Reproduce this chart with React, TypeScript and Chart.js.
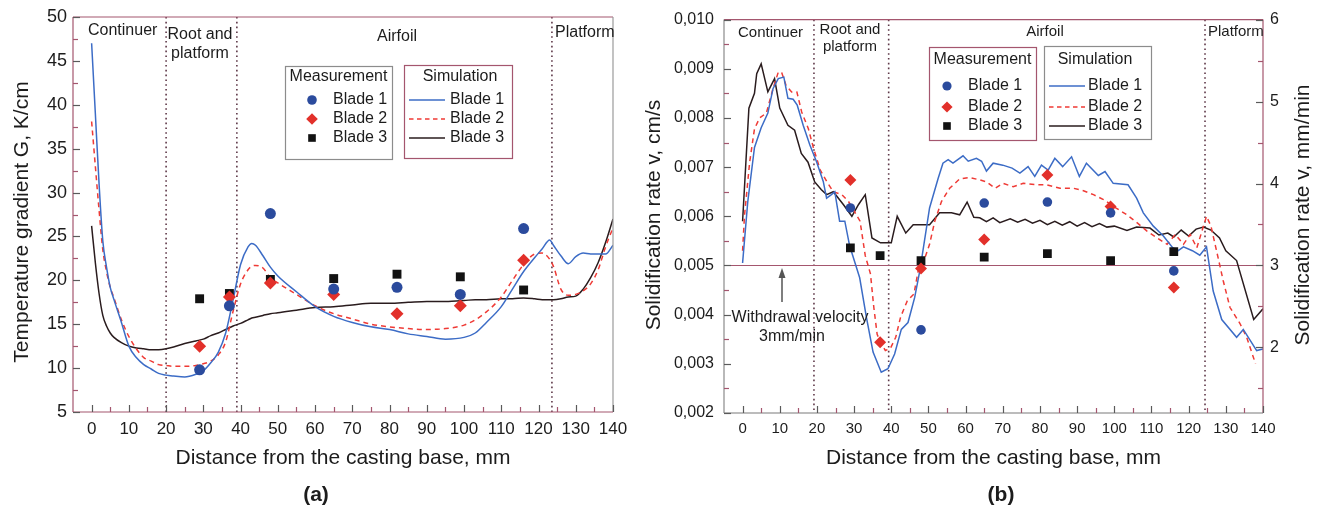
import React, { useEffect, useRef } from "react";
import { Chart, registerables } from "chart.js";

Chart.register(...registerables);

const FONT = "'Liberation Sans', Arial, Helvetica, sans-serif";
const TEXT = "#1c1c1c";
const BLUE_PT = "#2b4b9d";
const BLUE_LN = "#3c6cc6";
const RED_PT = "#e2302a";
const RED_LN = "#ef3a35";
const BLACK_PT = "#121212";
const BLACK_LN = "#2a1c1e";
const MAROON = "#a4566e";
const GRAY = "#8c8c8c";
const ZONE = "#5e3848";

// ---------- shared ----------
const BLADES = ["Blade 1", "Blade 2", "Blade 3"];
const DIST_TICKS = [0, 10, 20, 30, 40, 50, 60, 70, 80, 90, 100, 110, 120, 130, 140];
const MEAS_X = [29, 37, 48, 65, 82, 99, 116];

// ---------- panel (a): temperature gradient ----------
const GRAD_TICKS = [5, 10, 15, 20, 25, 30, 35, 40, 45, 50];
const gradMeasBlade1 = [9.8, 17.1, 27.6, 19.0, 19.2, 18.4, 25.9];
const gradMeasBlade2 = [12.5, 18.1, 19.7, 18.4, 16.2, 17.1, 22.3];
const gradMeasBlade3 = [17.9, 18.5, 20.1, 20.2, 20.7, 20.4, 18.9];

const gradSimX = [0, 1, 2, 3, 4, 5, 6, 8, 10, 12, 14, 16, 18, 20, 22, 25, 28, 30, 32, 34, 36, 38, 40, 42, 43, 44, 46, 48, 50, 55, 60, 65, 70, 75, 80, 85, 90, 95, 100, 103, 106, 110, 113, 116, 119, 121, 123, 124, 126, 128, 130, 132, 134, 136, 138, 140];
const gradSimBlade1 = [47, 39, 31, 24.5, 21.5, 19.2, 17.8, 15.2, 12.5, 11.2, 10.4, 9.9, 9.4, 9.2, 9.1, 9.0, 9.3, 9.7, 10.6, 11.8, 14.0, 17.8, 21.8, 23.8, 24.2, 24.0, 22.8, 21.5, 20.5, 18.7, 17.0, 15.9, 15.2, 14.7, 14.4, 13.9, 13.6, 13.3, 13.5, 14.0, 15.2, 17.0, 19.0, 21.0, 22.6, 23.6, 24.6, 24.0, 22.8, 21.9, 22.7, 23.1, 23.0, 23.0, 23.0, 24.0];
const gradSimBlade2 = [38.1, 33, 28, 23.5, 21, 19.2, 18, 15.5, 13.6, 12.2, 11.2, 10.8, 10.4, 10.3, 10.2, 10.2, 10.3, 10.5, 10.8, 11.5, 13.0, 16.5, 19.6, 21.2, 21.6, 21.7, 21.4, 20.3, 19.7, 18.4, 17.1, 16.2, 15.6, 15.0, 14.7, 14.5, 14.4, 14.5, 14.9, 15.5, 16.4, 18.1, 20.0, 21.8, 23.0, 23.1, 22.4, 21.6, 19.0, 18.3, 18.4, 18.8, 19.6, 21.2, 23.8, 26.0];
const gradSimBlade3 = [26.2, 22, 18.5, 16, 14.8, 14.0, 13.5, 12.9, 12.5, 12.3, 12.2, 12.1, 12.1, 12.2, 12.4, 12.8, 13.1, 13.3, 13.7, 14.0, 14.4, 14.8, 15.1, 15.5, 15.7, 15.8, 16.0, 16.2, 16.3, 16.6, 16.9, 17.0, 17.2, 17.4, 17.4, 17.5, 17.6, 17.6, 17.7, 17.8, 17.8, 17.9, 17.9, 18.0, 17.9, 17.8, 17.8, 17.8, 17.9, 18.1, 18.2, 19.0, 20.3, 22.0, 24.3, 27.0];
const gradZones = [20, 39, 123.6];

// ---------- panel (b): solidification rate ----------
const RATE_TICKS = [0.002, 0.003, 0.004, 0.005, 0.006, 0.007, 0.008, 0.009, 0.01];
const RATE_MM_TICKS = [2, 3, 4, 5, 6];
const WITHDRAWAL_RATE = 0.005;
const rateMeasX1 = [29, 48, 65, 82, 99, 116];
const rateMeasBlade1 = [0.00617, 0.00369, 0.00627, 0.00629, 0.00607, 0.00489];
const rateMeasBlade2 = [0.00674, 0.00344, 0.00494, 0.00553, 0.00684, 0.0062, 0.00455];
const rateMeasBlade3 = [0.00536, 0.0052, 0.0051, 0.00517, 0.00524, 0.0051, 0.00528];

const rateSimX1 = [0, 1.4, 3.2, 5, 6.8, 8.2, 9.6, 11.1, 12.2, 13.6, 14.7, 16.3, 18.1, 19.9, 21.7, 22.6, 23.9, 24.8, 26.1, 27.5, 28.8, 31.5, 33.3, 35.1, 37.3, 39.1, 40.9, 42.7, 44.5, 46.3, 47.7, 50.3, 52.6, 53.9, 55.3, 56.6, 59.3, 60.7, 62.9, 64.3, 65.6, 67.4, 70, 72.5, 74.6, 76.8, 78.6, 80.4, 82.2, 84, 86.1, 88.5, 90.6, 92.5, 95.7, 97.5, 99.7, 103.7, 106, 107.8, 110.5, 113.2, 115.7, 117.2, 118.6, 121, 123, 124.8, 126.6, 128.9, 132.9, 134.7, 138.3, 140];
const rateSimBlade1 = [0.00505, 0.0063, 0.0074, 0.0078, 0.0081, 0.0086, 0.0088, 0.00883, 0.0084, 0.00838, 0.00826, 0.00785, 0.00745, 0.00711, 0.00671, 0.00637, 0.00644, 0.0065, 0.0059, 0.0059, 0.0054, 0.00475, 0.00395, 0.00324, 0.00283, 0.0029, 0.0032, 0.0037, 0.00384, 0.00435, 0.0049, 0.00617, 0.00677, 0.00708, 0.00715, 0.00708, 0.00723, 0.00712, 0.00718, 0.00712, 0.00692, 0.00708, 0.00704, 0.00698, 0.00688, 0.00701, 0.00681, 0.00704, 0.00694, 0.00718, 0.00701, 0.00721, 0.00681, 0.00708, 0.00683, 0.00691, 0.00667, 0.00664, 0.00637, 0.00607, 0.0058, 0.0056, 0.00536, 0.0053, 0.00538, 0.0053, 0.00521, 0.00538, 0.00448, 0.0039, 0.00354, 0.0037, 0.00327, 0.0033];
const rateSimX2 = [0, 0.5, 1.9, 3.2, 4.6, 6.4, 8.2, 9.6, 10.5, 11.7, 13.2, 14.6, 15.9, 17.7, 19.1, 20.9, 22.7, 24.4, 26.7, 28.5, 30.3, 31.6, 33, 34.4, 35.3, 36.2, 37.1, 38.4, 39.8, 41.2, 42.5, 44.3, 46.1, 47.4, 48.8, 50.3, 51.7, 53.5, 55.7, 58.4, 61.1, 63.8, 65.6, 67.9, 70.1, 72.8, 75.5, 79.1, 81.8, 85.4, 89, 91.7, 94.4, 97.1, 99.8, 103.4, 106.1, 108.8, 111.5, 114.2, 116.4, 118.6, 120.4, 122.2, 124.8, 126, 127.5, 129.3, 131.1, 133.8, 135.6, 138];
const rateSimBlade2 = [0.0053, 0.006, 0.0071, 0.00778, 0.008, 0.0081, 0.0086, 0.00893, 0.00893, 0.00866, 0.00853, 0.00853, 0.00812, 0.00778, 0.00738, 0.00694, 0.0067, 0.0065, 0.00644, 0.0063, 0.00607, 0.0059, 0.0052, 0.00483, 0.00415, 0.0036, 0.00344, 0.00327, 0.00332, 0.00354, 0.00395, 0.00428, 0.00442, 0.00496, 0.0051, 0.00543, 0.0059, 0.0063, 0.00657, 0.00676, 0.00679, 0.00674, 0.0067, 0.00657, 0.00667, 0.0066, 0.00667, 0.00664, 0.00664, 0.00657, 0.00657, 0.00652, 0.00644, 0.00634, 0.0062, 0.00603, 0.00587, 0.0057, 0.00556, 0.00543, 0.00563, 0.00543, 0.00563, 0.00536, 0.006, 0.0058, 0.0053, 0.00469, 0.00415, 0.00382, 0.00354, 0.003];
const rateSimX3 = [0, 1.7, 3.2, 3.8, 5, 6.8, 8.6, 10, 12.2, 14, 15.8, 17.6, 19.4, 21.2, 22.6, 24.4, 27.1, 29.4, 31.2, 33, 34.8, 37.1, 40, 41.6, 43.9, 45.9, 50.3, 53, 56.2, 58.4, 60.4, 62.2, 63.8, 65.6, 67.4, 69.2, 72, 74, 76, 78, 80, 82, 84, 86, 88, 90, 92, 94, 96, 98, 100, 103.4, 106, 109.6, 112, 114.4, 116, 118, 120, 122, 124, 126, 128.3, 130, 132.9, 137.5, 140];
const rateSimBlade3 = [0.0059, 0.0082, 0.0085, 0.0089, 0.0091, 0.00853, 0.0088, 0.0082, 0.00785, 0.00775, 0.00728, 0.0071, 0.0067, 0.00654, 0.00644, 0.0065, 0.00624, 0.006, 0.00624, 0.00644, 0.00556, 0.00546, 0.00546, 0.006, 0.00566, 0.00583, 0.00583, 0.00607, 0.00607, 0.00603, 0.00629, 0.00598, 0.00597, 0.00589, 0.00597, 0.00587, 0.00595, 0.00588, 0.00594, 0.00586, 0.00592, 0.00583, 0.0059, 0.00582, 0.00589, 0.0058, 0.00587, 0.00579, 0.00585, 0.00578, 0.0058, 0.00571, 0.00578, 0.00576, 0.00562, 0.00566, 0.00558, 0.00572, 0.0056, 0.00574, 0.00578, 0.00572, 0.00556, 0.0053, 0.0051, 0.0039, 0.00412];
const rateZones = [19.2, 39.3, 124.4];

// ---------- helpers ----------
const zip = (xs: number[], ys: number[]) => xs.map((x, i) => ({ x, y: ys[i] }));

function pts(label: string, xs: number[], ys: number[], style: string, r: number, color: string) {
  return {
    label, data: zip(xs, ys), showLine: false, pointStyle: style, pointRadius: r,
    pointBackgroundColor: color, pointBorderColor: color, pointBorderWidth: 0, pointHoverRadius: r,
  };
}
function line(label: string, xs: number[], ys: number[], color: string, dash: number[], smooth: boolean) {
  return {
    label, data: zip(xs, ys), showLine: true, pointRadius: 0, pointHoverRadius: 0,
    borderColor: color, borderWidth: 1.5, borderDash: dash, fill: false,
    tension: smooth ? 0.4 : 0, cubicInterpolationMode: smooth ? "monotone" : "default",
  };
}

type Kind = "circle" | "rectRot" | "rect" | "line";
type Row = { y: number; label: string; kind: Kind; color: string; dash?: number[]; r?: number };
type Box = { x0: number; y0: number; x1: number; y1: number; border: string; title: string; tx: number; ty: number; mx: number; lx0: number; lx1: number; labelX: number; rows: Row[] };
type Label = { s: string; x: number; y: number; align?: CanvasTextAlign; size: number; bold?: boolean; rot?: boolean };
type YAx = { id: string; ticks: number[]; side: "left" | "right" };
type Decor = {
  frame: [string, string, string, string];
  zones: number[];
  hline?: number;
  yAxes: YAx[];
  labels: Label[];
  boxes: Box[];
  arrow?: { x: number; tip: number; base: number };
};

function drawMarker(ctx: CanvasRenderingContext2D, kind: Kind, x: number, y: number, r: number, color: string) {
  ctx.fillStyle = color;
  ctx.beginPath();
  if (kind === "circle") ctx.arc(x, y, r, 0, Math.PI * 2);
  else if (kind === "rectRot") { ctx.moveTo(x, y - r); ctx.lineTo(x + r, y); ctx.lineTo(x, y + r); ctx.lineTo(x - r, y); ctx.closePath(); }
  else { const s = r * Math.SQRT1_2; ctx.rect(x - s, y - s, 2 * s, 2 * s); }
  ctx.fill();
}

function text(ctx: CanvasRenderingContext2D, l: Label) {
  ctx.save();
  ctx.font = `${l.bold ? "bold " : ""}${l.size}px ${FONT}`;
  ctx.fillStyle = TEXT;
  ctx.textAlign = l.align || "center";
  ctx.textBaseline = "middle";
  if (l.rot) { ctx.translate(l.x, l.y); ctx.rotate(-Math.PI / 2); ctx.fillText(l.s, 0, 0); }
  else ctx.fillText(l.s, l.x, l.y);
  ctx.restore();
}

function withMinors(ticks: number[], min: number, max: number) {
  const out: { v: number; major: boolean }[] = [];
  const step = ticks[1] - ticks[0];
  const first = ticks[0] - step / 2;
  if (first > min + 1e-9) out.push({ v: first, major: false });
  ticks.forEach((t) => {
    out.push({ v: t, major: true });
    const m = t + step / 2;
    if (m < max - 1e-9) out.push({ v: m, major: false });
  });
  return out.filter((o) => o.v >= min - 1e-9 && o.v <= max + 1e-9);
}

function decorPlugin(d: Decor) {
  return {
    id: "decor",
    beforeDatasetsDraw(chart: any) {
      const { ctx, chartArea: a, scales } = chart;
      ctx.save();
      ctx.strokeStyle = ZONE;
      ctx.lineWidth = 1.6;
      ctx.setLineDash([1.6, 3.2]);
      d.zones.forEach((z) => {
        const px = scales.x.getPixelForValue(z);
        ctx.beginPath(); ctx.moveTo(px, a.top); ctx.lineTo(px, a.bottom); ctx.stroke();
      });
      ctx.setLineDash([]);
      if (d.hline !== undefined) {
        const py = Math.round(scales.y.getPixelForValue(d.hline)) + 0.5;
        ctx.strokeStyle = MAROON; ctx.lineWidth = 1.2;
        ctx.beginPath(); ctx.moveTo(a.left, py); ctx.lineTo(a.right, py); ctx.stroke();
      }
      ctx.restore();
    },
    afterDraw(chart: any) {
      const { ctx, chartArea: a, scales } = chart;
      ctx.save();
      const [ct, cr, cb, cl] = d.frame;
      const seg = (c: string, x0: number, y0: number, x1: number, y1: number) => {
        ctx.strokeStyle = c; ctx.lineWidth = 1.2; ctx.beginPath(); ctx.moveTo(x0, y0); ctx.lineTo(x1, y1); ctx.stroke();
      };
      seg(ct, a.left, a.top, a.right, a.top);
      seg(cr, a.right, a.top, a.right, a.bottom);
      seg(cb, a.left, a.bottom, a.right, a.bottom);
      seg(cl, a.left, a.top, a.left, a.bottom);
      const xs = scales.x;
      withMinors(DIST_TICKS, xs.min, xs.max).forEach((t) => {
        const px = Math.round(xs.getPixelForValue(t.v)) + 0.5;
        seg(t.major ? "#5a5a5a" : MAROON, px, a.bottom, px, a.bottom - (t.major ? 7 : 5));
      });
      d.yAxes.forEach((ax) => {
        const s = scales[ax.id];
        withMinors(ax.ticks, s.min, s.max).forEach((t) => {
          const py = Math.round(s.getPixelForValue(t.v)) + 0.5;
          const len = t.major ? 7 : 5;
          const col = t.major ? "#5a5a5a" : MAROON;
          if (ax.side === "left") seg(col, a.left, py, a.left + len, py);
          else seg(col, a.right, py, a.right - len, py);
        });
      });
      d.labels.forEach((l) => text(ctx, l));
      d.boxes.forEach((b) => {
        ctx.strokeStyle = b.border; ctx.lineWidth = 1.2;
        ctx.strokeRect(b.x0 + 0.5, b.y0 + 0.5, b.x1 - b.x0, b.y1 - b.y0);
        text(ctx, { s: b.title, x: b.tx, y: b.ty, size: 16 });
        b.rows.forEach((r) => {
          if (r.kind === "line") {
            ctx.strokeStyle = r.color; ctx.lineWidth = 1.6; ctx.setLineDash(r.dash || []);
            ctx.beginPath(); ctx.moveTo(b.lx0, r.y); ctx.lineTo(b.lx1, r.y); ctx.stroke();
            ctx.setLineDash([]);
          } else drawMarker(ctx, r.kind, b.mx, r.y, r.r || 4.5, r.color);
          text(ctx, { s: r.label, x: b.labelX, y: r.y, size: 16, align: "left" });
        });
      });
      if (d.arrow) {
        const { x, tip, base } = d.arrow;
        ctx.strokeStyle = "#555"; ctx.fillStyle = "#555"; ctx.lineWidth = 1.5;
        ctx.beginPath(); ctx.moveTo(x, base); ctx.lineTo(x, tip + 8); ctx.stroke();
        ctx.beginPath(); ctx.moveTo(x, tip); ctx.lineTo(x + 3.5, tip + 10); ctx.lineTo(x - 3.5, tip + 10); ctx.closePath(); ctx.fill();
      }
      ctx.restore();
    },
  };
}

function xScale(size: number, height: number) {
  return {
    type: "linear", min: -5, max: 140,
    grid: { display: false, drawTicks: false }, border: { display: false },
    ticks: { autoSkip: false, maxRotation: 0, minRotation: 0, padding: 7, color: TEXT, font: { family: FONT, size } },
    afterBuildTicks: (s: any) => { s.ticks = DIST_TICKS.map((v) => ({ value: v })); },
    afterFit: (s: any) => { s.height = height; },
  };
}
function yScale(pos: string, min: number, max: number, ticks: number[], size: number, width: number, pad: number, fmt: (v: number) => string) {
  return {
    type: "linear", position: pos, min, max,
    grid: { display: false, drawTicks: false }, border: { display: false },
    ticks: { autoSkip: false, padding: pad, color: TEXT, font: { family: FONT, size }, callback: (v: any) => fmt(Number(v)) },
    afterBuildTicks: (s: any) => { s.ticks = ticks.map((v) => ({ value: v })); },
    afterFit: (s: any) => { s.width = width; },
  };
}

const measRows = (y: number[], r: number[]): Row[] => [
  { y: y[0], label: BLADES[0], kind: "circle", color: BLUE_PT, r: r[0] },
  { y: y[1], label: BLADES[1], kind: "rectRot", color: RED_PT, r: r[1] },
  { y: y[2], label: BLADES[2], kind: "rect", color: BLACK_PT, r: r[2] },
];
const simRows = (y: number[]): Row[] => [
  { y: y[0], label: BLADES[0], kind: "line", color: BLUE_LN },
  { y: y[1], label: BLADES[1], kind: "line", color: RED_LN, dash: [4.5, 3.5] },
  { y: y[2], label: BLADES[2], kind: "line", color: BLACK_LN },
];

const decorA: Decor = {
  frame: [MAROON, "#9a9a9a", MAROON, MAROON],
  zones: gradZones,
  yAxes: [{ id: "y", ticks: GRAD_TICKS, side: "left" }],
  labels: [
    { s: "Continuer", x: 88, y: 31, size: 16, align: "left" },
    { s: "Root and", x: 200, y: 35, size: 16 },
    { s: "platform", x: 200, y: 54, size: 16 },
    { s: "Airfoil", x: 397, y: 37, size: 16 },
    { s: "Platform", x: 555, y: 33, size: 16, align: "left" },
    { s: "Distance from the casting base, mm", x: 343, y: 458, size: 21 },
    { s: "Temperature gradient G, K/cm", x: 22, y: 222, size: 21, rot: true },
    { s: "(a)", x: 316, y: 495, size: 21, bold: true },
  ],
  boxes: [
    { x0: 285, y0: 66, x1: 392, y1: 159, border: GRAY, title: "Measurement", tx: 338.5, ty: 77, mx: 312, lx0: 0, lx1: 0, labelX: 333, rows: measRows([100, 119, 138], [4.8, 5.8, 5.4]) },
    { x0: 404, y0: 65, x1: 512, y1: 158, border: MAROON, title: "Simulation", tx: 460, ty: 77, mx: 0, lx0: 409, lx1: 445, labelX: 450, rows: simRows([100, 119, 138]) },
  ],
};

const decorB: Decor = {
  frame: [MAROON, MAROON, "#7a7a7a", "#8a8a8a"],
  zones: rateZones,
  hline: WITHDRAWAL_RATE,
  yAxes: [
    { id: "y", ticks: RATE_TICKS, side: "left" },
    { id: "y2", ticks: RATE_MM_TICKS, side: "right" },
  ],
  labels: [
    { s: "Continuer", x: 98, y: 33, size: 15, align: "left" },
    { s: "Root and", x: 210, y: 30, size: 15 },
    { s: "platform", x: 210, y: 47, size: 15 },
    { s: "Airfoil", x: 405, y: 32, size: 15 },
    { s: "Platform", x: 568, y: 32, size: 15, align: "left" },
    { s: "Withdrawal velocity", x: 160, y: 318, size: 16 },
    { s: "3mm/min", x: 152, y: 337, size: 16 },
    { s: "Distance from the casting base, mm", x: 353.5, y: 458, size: 21 },
    { s: "Solidification rate v, cm/s", x: 14, y: 215, size: 21, rot: true },
    { s: "Solidification rate v, mm/min", x: 663, y: 215, size: 21, rot: true },
    { s: "(b)", x: 361, y: 495, size: 21, bold: true },
  ],
  boxes: [
    { x0: 289, y0: 47, x1: 396, y1: 140, border: MAROON, title: "Measurement", tx: 342.5, ty: 60, mx: 307, lx0: 0, lx1: 0, labelX: 328, rows: measRows([86, 107, 126], [4.6, 5.6, 5.4]) },
    { x0: 404, y0: 46, x1: 511, y1: 139, border: GRAY, title: "Simulation", tx: 455, ty: 60, mx: 0, lx0: 409, lx1: 445, labelX: 448, rows: simRows([86, 107, 126]) },
  ],
  arrow: { x: 142, tip: 268, base: 302 },
};

function configA(): any {
  return {
    type: "scatter",
    data: {
      datasets: [
        pts(BLADES[0], MEAS_X, gradMeasBlade1, "circle", 5.5, BLUE_PT),
        pts(BLADES[1], MEAS_X, gradMeasBlade2, "rectRot", 6.5, RED_PT),
        pts(BLADES[2], MEAS_X, gradMeasBlade3, "rect", 6.3, BLACK_PT),
        line(BLADES[0], gradSimX, gradSimBlade1, BLUE_LN, [], true),
        line(BLADES[1], gradSimX, gradSimBlade2, RED_LN, [5, 4], true),
        line(BLADES[2], gradSimX, gradSimBlade3, BLACK_LN, [], true),
      ],
    },
    options: {
      responsive: false, animation: false, devicePixelRatio: 1, events: [],
      layout: { padding: { left: 0, right: 27, top: 17, bottom: 0 } },
      plugins: { legend: { display: false }, tooltip: { enabled: false } },
      scales: {
        x: xScale(17, 100),
        y: yScale("left", 5, 50, GRAD_TICKS, 18, 73, 6, (v) => String(v)),
      },
    },
    plugins: [decorPlugin(decorA)],
  };
}

function configB(): any {
  return {
    type: "scatter",
    data: {
      datasets: [
        pts(BLADES[0], rateMeasX1, rateMeasBlade1, "circle", 4.8, BLUE_PT),
        pts(BLADES[1], MEAS_X, rateMeasBlade2, "rectRot", 6, RED_PT),
        pts(BLADES[2], MEAS_X, rateMeasBlade3, "rect", 6.2, BLACK_PT),
        line(BLADES[0], rateSimX1, rateSimBlade1, BLUE_LN, [], false),
        line(BLADES[1], rateSimX2, rateSimBlade2, RED_LN, [5, 4], false),
        line(BLADES[2], rateSimX3, rateSimBlade3, BLACK_LN, [], false),
      ],
    },
    options: {
      responsive: false, animation: false, devicePixelRatio: 1, events: [],
      layout: { padding: { left: 0, right: 0, top: 17, bottom: 0 } },
      plugins: { legend: { display: false }, tooltip: { enabled: false } },
      scales: {
        x: xScale(15, 99),
        y: yScale("left", 0.002, 0.01, RATE_TICKS, 16, 84, 10, (v) => v.toFixed(3).replace(".", ",")),
        y2: yScale("right", 1.2, 6, RATE_MM_TICKS, 16, 64, 7, (v) => String(v)),
      },
    },
    plugins: [decorPlugin(decorB)],
  };
}

function Panel({ make, left, width }: { make: () => any; left: number; width: number }) {
  const ref = useRef<HTMLCanvasElement>(null);
  useEffect(() => {
    const chart = new Chart(ref.current as HTMLCanvasElement, make());
    return () => chart.destroy();
  }, []);
  return (
    <canvas ref={ref} width={width} height={512}
      style={{ position: "absolute", left, top: 0, width, height: 512, display: "block" }} />
  );
}

export default function App() {
  return (
    <div style={{ position: "absolute", left: 0, top: 0, width: 1327, height: 512, background: "#ffffff", overflow: "hidden" }}>
      <Panel make={configA} left={0} width={640} />
      <Panel make={configB} left={640} width={687} />
    </div>
  );
}
